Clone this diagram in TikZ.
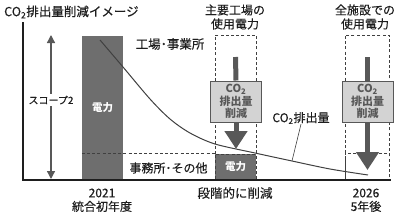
\documentclass[tikz,border=0pt]{standalone}
\usepackage{fontspec}
\setmainfont{Noto Sans CJK JP}[UprightFeatures={FakeBold=0.3}]
\usepackage{tikz}
\usetikzlibrary{arrows.meta,positioning}
\definecolor{ink}{HTML}{1E1E1E}
\definecolor{power}{HTML}{6E6E6E}
\definecolor{cut}{HTML}{D3D3D3}
\definecolor{shaft}{HTML}{585858}
\tikzset{
  every node/.style={font=\fontsize{12}{14}\selectfont,text=ink,inner sep=0pt,align=center},
  powerbox/.style={fill=power,text=white,font=\fontsize{10.5}{13}\selectfont\bfseries},
  frame/.style={draw=ink!85,line width=0.9pt,dash pattern=on 3pt off 2.2pt},
  cutbox/.style={draw=shaft,line width=1pt,fill=cut,text=shaft,minimum width=51pt,minimum height=41pt,font=\fontsize{11}{12.5}\selectfont\bfseries},
  axis/.style={draw=ink,line width=1.1pt},
  scopearrow/.style={{Triangle[width=8pt,length=8pt]}-{Triangle[width=8pt,length=8pt]},draw=shaft,line width=1.3pt},
  shaftline/.style={draw=shaft,line width=5pt},
  bigarrow/.style={shaftline,-{Triangle[width=22pt,length=18pt]}},
  emission/.style={draw=ink!85,line width=1pt},
  leader/.style={draw=ink!85,line width=0.6pt},
  divider/.style={draw=ink!85,line width=0.9pt,dash pattern=on 3pt off 2.2pt},
}

\begin{document}
\begin{tikzpicture}[x=1pt,y=-1pt]
\useasboundingbox (0,0) rectangle (402,215);

\node[anchor=west,font=\fontsize{12.5}{14}\selectfont] (title) at (4,12) {CO\textsubscript{2}排出量削減イメージ};

\coordinate (ytop) at (23,22);
\coordinate (origin) at (23,180);
\coordinate (xend) at (391,180);

\node[powerbox,minimum width=41pt,minimum height=144pt] (base) at (102.5,108) {電力};

\node[frame,minimum width=41pt,minimum height=145pt] (midframe) at (235.5,107.5) {};
\node[powerbox,frame,minimum width=41pt,minimum height=26pt] (midpower) at (235.5,167) {電力};
\node[frame,minimum width=44pt,minimum height=145pt] (endframe) at (367,107.5) {};
\node[frame,minimum width=44pt,minimum height=27pt] (endrest) at (367,166.5) {};

\draw[divider] (base.west |- midpower.north) -- (midpower.north west);

\draw[emission] plot[smooth] coordinates {(100,40) (123,67) (150,99) (170,119) (190,133) (215,144) (255,153) (292,161) (330,169) (368,175)};

\draw[axis] (ytop) -- (origin) -- (xend);

\coordinate (scopetop) at (51,35);
\coordinate (scopebot) at (51,179);
\draw[scopearrow] (scopebot) -- (scopetop);
\node[fill=white,inner sep=2pt,font=\fontsize{10}{12}\selectfont] (scope) at (51,100) {スコープ2};

\node[font=\fontsize{12.5}{14}\selectfont] (factory) at (170,44) {工場･事業所};
\node (office) at (168.5,168) {事務所･その他};

\node (midhead) at (235,17) {主要工場の\\使用電力};
\coordinate (midtop) at (235.5,57);
\node[cutbox] (midcut) at (236,101.5) {CO\textsubscript{2}\\排出量\\削減};
\coordinate (midtip) at (236,149);
\draw[shaftline] (midtop) -- (midcut.north);
\draw[bigarrow] (midcut.south) -- (midtip);

\node (endhead) at (365,17) {全施設での\\使用電力};
\coordinate (endtop) at (367.5,57);
\node[cutbox] (endcut) at (367.5,101.5) {CO\textsubscript{2}\\排出量\\削減};
\coordinate (endtip) at (367.5,170);
\draw[shaftline] (endtop) -- (endcut.north);
\draw[bigarrow] (endcut.south) -- (endtip);

\node (co2) at (301,118) {CO\textsubscript{2}排出量};
\coordinate (co2pt) at (292,161);
\draw[leader] (co2.south) -- (co2pt);

\node (y2021) at (102,193) {2021};
\node[below=3pt of y2021] (first) {統合初年度};
\node[font=\fontsize{12.5}{14}\selectfont] (gradual) at (235,193) {段階的に削減};
\node (y2026) at (366,193) {2026};
\node[below=3pt of y2026] (fiveyears) {5年後};

\end{tikzpicture}
\end{document}
